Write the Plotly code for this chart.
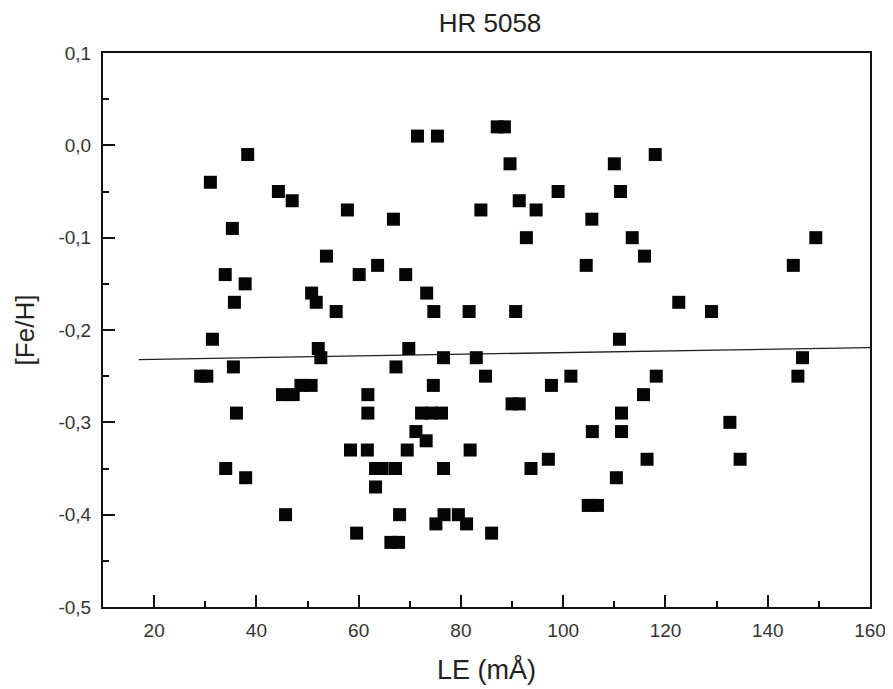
import plotly.graph_objects as go

# ---- data ----
le_values = [31.0, 38.3, 44.3, 47.0, 35.3, 33.9, 37.8, 35.7, 31.4, 29.1,
             30.3, 35.5, 36.1, 34.0, 37.9, 45.7, 45.1, 47.2, 48.7, 50.7,
             50.8, 51.7, 53.7, 55.6, 57.8, 52.1, 52.6, 60.1, 63.7, 66.8,
             69.2, 73.3, 74.7, 71.5, 75.4, 61.8, 61.8, 58.4, 61.7, 63.3,
             64.6, 67.2, 63.3, 67.3, 69.8, 74.6, 72.3, 74.2, 76.2, 71.2,
             73.2, 69.5, 76.6, 83.0, 84.8, 76.6, 81.8, 68.0, 59.6, 66.3,
             67.8, 75.1, 76.7, 79.5, 81.1, 86.0, 87.1, 88.5, 89.6, 110.0,
             118.0, 83.9, 91.4, 94.7, 99.0, 111.2, 105.6, 92.8, 113.5, 115.9,
             104.5, 149.4, 145.0, 81.6, 90.7, 122.6, 129.0, 111.0, 101.5, 118.2,
             97.7, 90.0, 91.4, 115.7, 111.4, 105.7, 111.4, 97.1, 93.7, 116.4,
             110.4, 104.9, 106.7, 146.8, 145.9, 132.6, 134.6]
feh_values = [-0.04, -0.01, -0.05, -0.06, -0.09, -0.14, -0.15, -0.17, -0.21, -0.25,
              -0.25, -0.24, -0.29, -0.35, -0.36, -0.40, -0.27, -0.27, -0.26, -0.26,
              -0.16, -0.17, -0.12, -0.18, -0.07, -0.22, -0.23, -0.14, -0.13, -0.08,
              -0.14, -0.16, -0.18, 0.01, 0.01, -0.27, -0.29, -0.33, -0.33, -0.35,
              -0.35, -0.35, -0.37, -0.24, -0.22, -0.26, -0.29, -0.29, -0.29, -0.31,
              -0.32, -0.33, -0.23, -0.23, -0.25, -0.35, -0.33, -0.40, -0.42, -0.43,
              -0.43, -0.41, -0.40, -0.40, -0.41, -0.42, 0.02, 0.02, -0.02, -0.02,
              -0.01, -0.07, -0.06, -0.07, -0.05, -0.05, -0.08, -0.10, -0.10, -0.12,
              -0.13, -0.10, -0.13, -0.18, -0.18, -0.17, -0.18, -0.21, -0.25, -0.25,
              -0.26, -0.28, -0.28, -0.27, -0.29, -0.31, -0.31, -0.34, -0.35, -0.34,
              -0.36, -0.39, -0.39, -0.23, -0.25, -0.30, -0.34]

fit_x = [17.0, 160.0]
fit_y = [-0.232, -0.219]

x_tickvals = [20, 40, 60, 80, 100, 120, 140, 160]
x_ticktext = ["20", "40", "60", "80", "100", "120", "140", "160"]
y_tickvals = [0.1, 0.0, -0.1, -0.2, -0.3, -0.4, -0.5]
y_ticktext = ["0,1", "0,0", "-0,1", "-0,2", "-0,3", "-0,4", "-0,5"]

title_text = "HR 5058"
x_title = "LE (mÅ)"
y_title = "[Fe/H]"

FONT = "Liberation Sans, Arial, sans-serif"

# page body has an 8px default margin, so the figure is drawn 8px smaller
W, H = 885, 681

fig = go.Figure()
fig.add_trace(go.Scatter(
    x=fit_x, y=fit_y, mode="lines",
    line=dict(color="#222222", width=1.3),
    showlegend=False, hoverinfo="skip"))
fig.add_trace(go.Scatter(
    x=le_values, y=feh_values, mode="markers",
    marker=dict(symbol="square", size=13, color="#050505", line=dict(width=0)),
    showlegend=False))

axis_common = dict(
    showgrid=False, zeroline=False, showline=True, linecolor="#111111",
    linewidth=2, mirror=True, ticks="inside", ticklen=12, tickwidth=2,
    tickcolor="#111111", tickfont=dict(family=FONT, size=19, color="#333333"),
    automargin=False,
)

fig.update_xaxes(
    range=[10, 160], tickmode="array", tickvals=x_tickvals, ticktext=x_ticktext,
    minor=dict(ticks="inside", ticklen=6, tickwidth=2, tickcolor="#111111",
               tick0=0, dtick=10),
    title=dict(text=x_title, font=dict(family=FONT, size=27, color="#222222"),
               standoff=20),
    ticklabelstandoff=5,
    **axis_common)
fig.update_yaxes(
    range=[-0.5, 0.1], tickmode="array", tickvals=y_tickvals, ticktext=y_ticktext,
    minor=dict(ticks="inside", ticklen=6, tickwidth=2, tickcolor="#111111",
               tick0=0.05, dtick=0.1),
    title=dict(text=y_title, font=dict(family=FONT, size=26, color="#222222"),
               standoff=16),
    ticklabelstandoff=6,
    **axis_common)

fig.update_layout(
    width=W, height=H,
    margin=dict(l=95, r=23, t=45, b=82, autoexpand=False),
    paper_bgcolor="white", plot_bgcolor="white",
    title=dict(text=title_text, x=482 / W, xanchor="center",
               y=1 - 15 / H, yanchor="middle",
               font=dict(family=FONT, size=26, color="#222222")),
    font=dict(family=FONT),
)

fig.write_html("out.html")
